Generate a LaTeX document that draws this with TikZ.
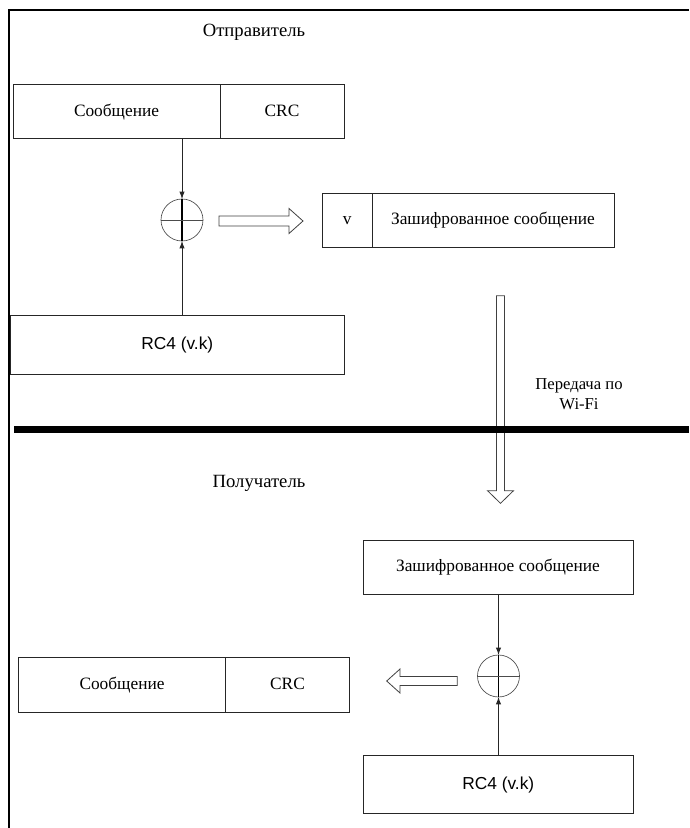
\documentclass[tikz,border=0pt]{standalone}
\usepackage{fontspec}
\setmainfont{Liberation Serif}
\setsansfont{Liberation Sans}
\usepackage{tikz}
\usetikzlibrary{arrows.meta}

\tikzset{
  box/.style={draw=black!85,line width=0.6pt,inner sep=0pt,outer sep=0pt,minimum height=40pt,text height=9.5pt,text depth=2.5pt,font=\fontsize{13}{15}\selectfont},
  xor/.style={circle,draw=black!70,line width=0.5pt,inner sep=0pt,outer sep=0pt,minimum size=31.5pt},
  conn/.style={draw=black!85,line width=0.6pt,-{Latex[length=5.5pt,width=4pt]}},
  hollow/.style={draw=black!75,line width=0.6pt,fill=white},
  title/.style={font=\fontsize{14}{16}\selectfont}
}

\begin{document}
\begin{tikzpicture}[x=0.75pt,y=-0.75pt]
\useasboundingbox (0,0) rectangle (689,828);
\draw[line width=1pt](9,828)--(9,10)--(689,10);
% sender
\node (sender) at (254,32) [title]{Отправитель};
\node (msgA) at (116.5,111.5) [box,minimum width=155.25pt]{Сообщение};
\node (crcA) at (282,111.5) [box,minimum width=93pt]{CRC};
\node (xorA) at (182,220) [xor]{};
\node (encV) at (347.3,220.3) [box,minimum width=37pt,minimum height=41pt]{v};
\node (encA) at (493,220.3) [box,minimum width=181.5pt,minimum height=41pt]{Зашифрованное сообщение};
\node (rcA) at (177.3,345) [box,minimum width=250pt,minimum height=43.7pt,font=\sffamily\fontsize{13}{15}\selectfont]{RC4 (v.k)};
\draw[conn](xorA |- msgA.south)--(xorA.north);
\draw[conn](xorA |- rcA.north)--(xorA.south);
\draw[line width=0.9pt](xorA.north)--(xorA.south);
\draw[line width=0.5pt,black!70](xorA.west)--(xorA.east);
\draw[hollow](219,216)--(289,216)--(289,208.5)--(303,221)--(289,233.5)--(289,226)--(219,226)--cycle;
% channel
\draw[hollow,fill=none](496.5,295.7)--(496.5,490.7)--(487.5,490.7)--(500.5,503.3)--(513.5,490.7)--(504.5,490.7)--(504.5,295.7)--cycle;
\node (wifi) at (579,394) [align=center,font=\fontsize{12.5}{15}\selectfont]{Передача по\\Wi-Fi};
\draw[line width=5.25pt](14,429.5)--(689,429.5);
% receiver
\node (receiver) at (259,483) [title]{Получатель};
\node (encB) at (498,567.3) [box,minimum width=202.5pt]{Зашифрованное сообщение};
\node (xorB) at (498.5,676) [xor]{};
\node (msgB) at (122,685) [box,minimum width=155.5pt,minimum height=40.7pt]{Сообщение};
\node (crcB) at (287.5,685) [box,minimum width=92.7pt,minimum height=40.7pt]{CRC};
\node (rcB) at (498.3,784.5) [box,minimum width=202.5pt,minimum height=43.2pt,font=\sffamily\fontsize{13}{15}\selectfont]{RC4 (v.k)};
\draw[conn](xorB |- encB.south)--(xorB.north);
\draw[conn](xorB |- rcB.north)--(xorB.south);
\draw[line width=0.9pt](xorB.north)--(xorB.south);
\draw[line width=0.5pt,black!70](xorB.west)--(xorB.east);
\draw[hollow](457.3,676.5)--(400,676.5)--(400,669)--(386.7,681)--(400,693)--(400,685.5)--(457.3,685.5)--cycle;
\end{tikzpicture}
\end{document}
